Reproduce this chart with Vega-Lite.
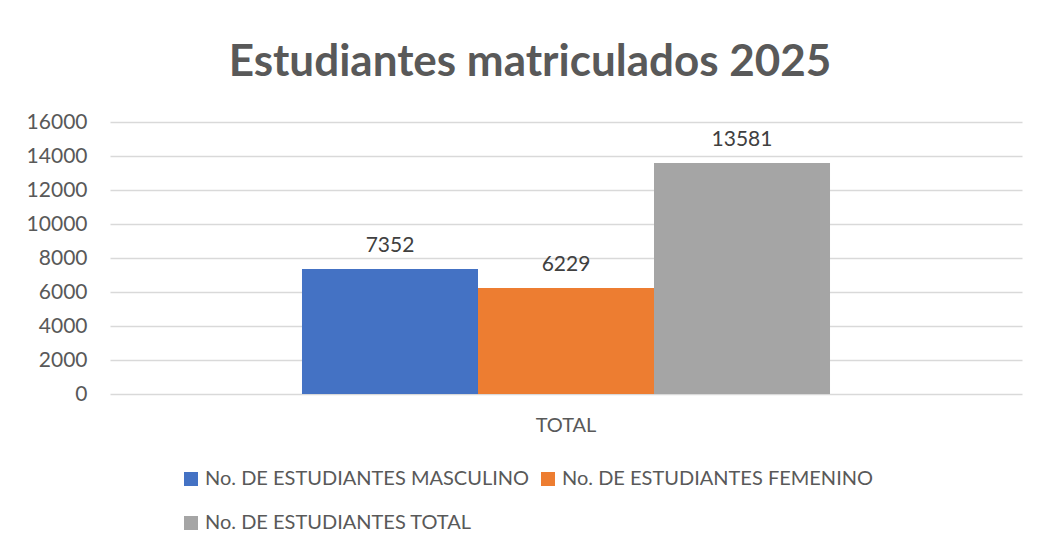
{
  "$schema": "https://vega.github.io/schema/vega-lite/v6.json",
  "autosize": "none",
  "width": 912,
  "height": 272,
  "padding": {"left": 110, "top": 122, "right": 15, "bottom": 159},
  "background": "white",
  "config": {
    "font": "Lato",
    "view": {"stroke": null}
  },
  "title": {
    "text": "Estudiantes matriculados 2025",
    "font": "Lato",
    "fontSize": 44,
    "fontWeight": "bold",
    "color": "#595959",
    "anchor": "middle",
    "dx": -36,
    "offset": 26
  },
  "data": {
    "values": [
      {"categoria": "TOTAL", "serie": "No. DE ESTUDIANTES MASCULINO", "valor": 7352},
      {"categoria": "TOTAL", "serie": "No. DE ESTUDIANTES FEMENINO", "valor": 6229},
      {"categoria": "TOTAL", "serie": "No. DE ESTUDIANTES TOTAL", "valor": 13581}
    ]
  },
  "encoding": {
    "x": {
      "field": "categoria",
      "type": "nominal",
      "scale": {"paddingInner": 0, "paddingOuter": 0.3636},
      "axis": {
        "title": null,
        "labelAngle": 0,
        "labelFontSize": 20,
        "labelColor": "#595959",
        "labelPadding": 21,
        "domain": false,
        "ticks": false
      }
    },
    "xOffset": {
      "field": "serie",
      "type": "nominal",
      "sort": ["No. DE ESTUDIANTES MASCULINO", "No. DE ESTUDIANTES FEMENINO", "No. DE ESTUDIANTES TOTAL"],
      "scale": {"paddingInner": 0, "paddingOuter": 0}
    },
    "y": {
      "field": "valor",
      "type": "quantitative",
      "scale": {"domain": [0, 16000], "nice": false},
      "axis": {
        "title": null,
        "values": [0, 2000, 4000, 6000, 8000, 10000, 12000, 14000, 16000],
        "format": "d",
        "labelFontSize": 21,
        "labelColor": "#595959",
        "labelPadding": 23,
        "domain": false,
        "ticks": false,
        "gridColor": "#d9d9d9",
        "gridWidth": 1.5
      }
    }
  },
  "layer": [
    {
      "mark": {"type": "bar"},
      "encoding": {
        "color": {
          "field": "serie",
          "type": "nominal",
          "scale": {
            "domain": ["No. DE ESTUDIANTES MASCULINO", "No. DE ESTUDIANTES FEMENINO", "No. DE ESTUDIANTES TOTAL"],
            "range": ["#4472C4", "#ED7D31", "#A5A5A5"]
          },
          "legend": {
            "title": null,
            "orient": "none",
            "legendX": 71,
            "legendY": 347,
            "direction": "horizontal",
            "columns": 2,
            "symbolType": "square",
            "symbolSize": 196,
            "symbolStrokeWidth": 0,
            "labelFontSize": 20,
            "labelColor": "#595959",
            "labelOffset": 4,
            "labelLimit": 600,
            "columnPadding": 8,
            "rowPadding": 24
          }
        }
      }
    },
    {
      "mark": {"type": "text", "baseline": "alphabetic", "dy": -17, "fontSize": 21, "color": "#404040"},
      "encoding": {
        "text": {"field": "valor", "type": "quantitative", "format": "d"}
      }
    }
  ]
}
